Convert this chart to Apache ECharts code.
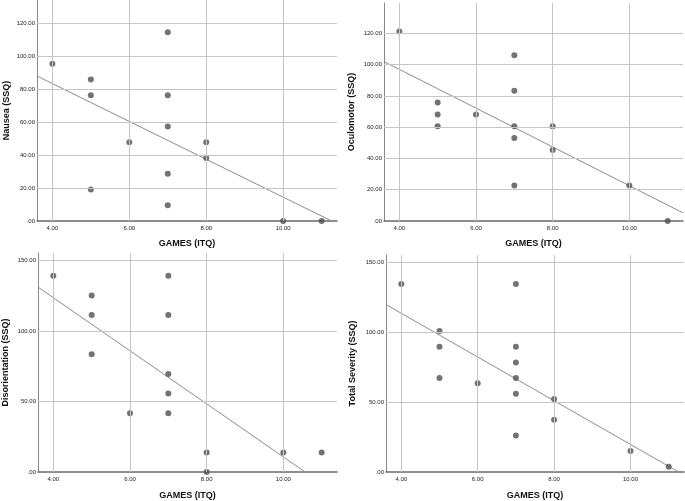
<!DOCTYPE html>
<html>
<head>
<meta charset="utf-8">
<script src="https://cdn.jsdelivr.net/npm/echarts@6/dist/echarts.min.js"></script>
<style>
html,body{margin:0;padding:0;background:#fff;}
#chart{width:685px;height:501px;}
</style>
</head>
<body>
<div id="chart"></div>
<script>
// ---- data ----
const xTicks = [4, 6, 8, 10];

const nauseaX = [4, 5, 5, 5, 6, 7, 7, 7, 7, 7, 8, 8, 10, 11];
const nauseaY = [95.4, 85.86, 76.32, 19.08, 47.7, 114.48, 76.32, 57.24, 28.62, 9.54, 47.7, 38.16, 0, 0];
const nauseaFit = [[3.6, 87.9], [11.26, 0]];
const nauseaTicks = [0, 20, 40, 60, 80, 100, 120];

const oculoX = [4, 5, 5, 5, 6, 7, 7, 7, 7, 7, 8, 8, 10, 11];
const oculoY = [121.28, 75.8, 68.22, 60.64, 68.22, 106.12, 83.38, 60.64, 53.06, 22.74, 60.64, 45.48, 22.74, 0];
const oculoFit = [[3.6, 102.0], [11.4, 5.2]];
const oculoTicks = [0, 20, 40, 60, 80, 100, 120];

const disoX = [4, 5, 5, 5, 6, 7, 7, 7, 7, 7, 8, 8, 10, 11];
const disoY = [139.2, 125.28, 111.36, 83.52, 41.76, 139.2, 111.36, 69.6, 55.68, 41.76, 13.92, 0, 13.92, 13.92];
const disoFit = [[3.6, 131.2], [10.57, 0]];
const disoTicks = [0, 50, 100, 150];

const totalX = [4, 5, 5, 5, 6, 7, 7, 7, 7, 7, 7, 8, 8, 10, 11];
const totalY = [134.64, 100.98, 89.76, 67.32, 63.58, 134.64, 89.76, 78.54, 67.32, 56.1, 26.18, 52.36, 37.4, 14.96, 3.74];
const totalFit = [[3.6, 120.0], [11.26, 0]];
const totalTicks = [0, 50, 100, 150];

const yNames = ['Nausea (SSQ)', 'Oculomotor (SSQ)', 'Disorientation (SSQ)', 'Total Severity (SSQ)'];
const xName = 'GAMES (ITQ)';

// ---- layout ----
const panels = [
  {x: nauseaX, y: nauseaY, fit: nauseaFit, ticks: nauseaTicks, ymax: 134, grid: {left: 37, top: 0, width: 300, height: 221}, yGap: 26, xGap: 18},
  {x: oculoX, y: oculoY, fit: oculoFit, ticks: oculoTicks, ymax: 139.5, grid: {left: 384, top: 3, width: 299, height: 218}, yGap: 28, xGap: 18},
  {x: disoX, y: disoY, fit: disoFit, ticks: disoTicks, ymax: 155.4, grid: {left: 37, top: 253, width: 300, height: 220}, yGap: 28, xGap: 19},
  {x: totalX, y: totalY, fit: totalFit, ticks: totalTicks, ymax: 155.5, grid: {left: 386, top: 255, width: 298, height: 218}, yGap: 29, xGap: 19}
];

const FONT = '"Liberation Sans", Arial, sans-serif';
const fmt = v => (Math.abs(v) < 1e-9 ? '.00' : Number(v).toFixed(2));

const grid = [], xAxis = [], yAxis = [], series = [];
panels.forEach((p, i) => {
  grid.push(Object.assign({containLabel: false}, p.grid));
  xAxis.push({
    type: 'value', gridIndex: i, min: 3.6, max: 11.4, z: 1,
    name: xName, nameLocation: 'middle', nameGap: p.xGap,
    nameTextStyle: {fontFamily: FONT, fontWeight: 'bold', fontSize: 9, color: '#111'},
    axisLine: {show: true, onZero: false, lineStyle: {color: '#6a6a6a', width: 1.5}},
    axisTick: {show: false},
    splitLine: {show: false},
    axisLabel: {customValues: xTicks, formatter: fmt, fontFamily: FONT, fontSize: 6, color: '#222', margin: 4}
  });
  yAxis.push({
    type: 'value', gridIndex: i, min: 0, max: p.ymax, z: 1,
    name: yNames[i], nameLocation: 'middle', nameGap: p.yGap, nameRotate: 90,
    nameTextStyle: {fontFamily: FONT, fontWeight: 'bold', fontSize: 9, color: '#111'},
    axisLine: {show: true, onZero: false, lineStyle: {color: '#888', width: 1}},
    axisTick: {show: false},
    splitLine: {show: false},
    axisLabel: {customValues: p.ticks, formatter: fmt, fontFamily: FONT, fontSize: 6, color: '#222', margin: 2}
  });
  // grid lines from tick arrays
  series.push({
    type: 'line', xAxisIndex: i, yAxisIndex: i, data: [], z: 0, silent: true,
    markLine: {
      silent: true, symbol: ['none', 'none'], animation: false,
      label: {show: false},
      lineStyle: {color: '#c6c6c6', width: 1, type: 'solid'},
      emphasis: {disabled: true},
      data: xTicks.map(v => ({xAxis: v})).concat(p.ticks.filter(v => v > 0).map(v => ({yAxis: v})))
    }
  });
  // fit line
  series.push({
    type: 'line', xAxisIndex: i, yAxisIndex: i, data: p.fit, z: 2, silent: true,
    symbol: 'none', clip: true,
    lineStyle: {color: '#8c8c8c', width: 1}
  });
  // points
  series.push({
    type: 'scatter', xAxisIndex: i, yAxisIndex: i, z: 3, silent: true,
    data: p.x.map((v, k) => [v, p.y[k]]),
    symbol: 'circle', symbolSize: 6,
    itemStyle: {color: '#505050'}
  });
});

const chart = echarts.init(document.getElementById('chart'), null, {renderer: 'canvas'});
chart.setOption({animation: false, backgroundColor: '#fff', grid, xAxis, yAxis, series});
</script>
</body>
</html>
